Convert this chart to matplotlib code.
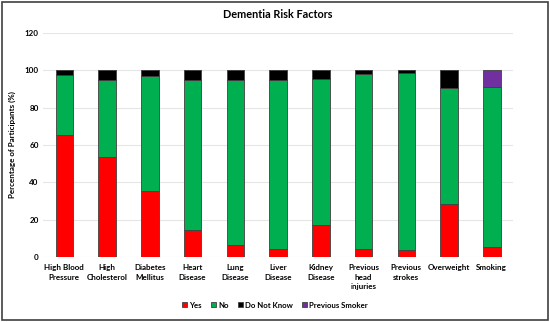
import numpy as np
import matplotlib
matplotlib.use("Agg")
import matplotlib.pyplot as plt
from matplotlib.patches import Rectangle

plt.rcParams["font.family"] = ["Lato", "DejaVu Sans"]

categories = ["High Blood\nPressure", "High\nCholesterol", "Diabetes\nMellitus", "Heart\nDisease",
              "Lung\nDisease", "Liver\nDisease", "Kidney\nDisease", "Previous\nhead\ninjuries",
              "Previous\nstrokes", "Overweight", "Smoking"]
yes = [65.5, 53.5, 35.5, 14.5, 6.5, 4.0, 17.0, 4.5, 3.5, 28.5, 5.5]
no = [32.0, 41.5, 61.5, 80.5, 88.5, 90.7, 78.5, 93.5, 95.0, 62.0, 85.5]
dont_know = [2.5, 5.0, 3.0, 5.0, 5.0, 5.3, 4.5, 2.0, 1.5, 9.5, 0.0]
prev_smoker = [0, 0, 0, 0, 0, 0, 0, 0, 0, 0, 9.0]

fig = plt.figure(figsize=(5.5, 3.22), dpi=100)
ax = fig.add_axes([0.078, 0.202, 0.855, 0.696])

x = np.arange(len(categories))
w = 0.41
ec = "#404040"
lw = 0.6
b = np.zeros(len(x))
ax.bar(x, yes, w, bottom=b, color="#ff0000", edgecolor=ec, linewidth=lw, label="Yes", zorder=3)
b += yes
ax.bar(x, no, w, bottom=b, color="#00b050", edgecolor=ec, linewidth=lw, label="No", zorder=3)
b += no
ax.bar(x, dont_know, w, bottom=b, color="#000000", edgecolor=ec, linewidth=lw, label="Do Not Know", zorder=3)
b += dont_know
ax.bar(x, prev_smoker, w, bottom=b, color="#7030a0", edgecolor=ec, linewidth=lw, label="Previous Smoker", zorder=3)

ax.set_xlim(-0.5, len(x) - 0.5)
ax.set_ylim(0, 120)
ax.set_yticks(range(0, 121, 20))
ax.set_xticks(x)
ax.set_xticklabels(categories, fontsize=5.8, fontweight="bold", va="top", linespacing=1.45)
ax.tick_params(axis="y", labelsize=5.8, length=0, pad=3)
ax.tick_params(axis="x", length=0, pad=5)
for t in ax.get_yticklabels():
    t.set_fontweight("bold")
ax.grid(axis="y", color="#e6e6e6", linewidth=0.8, zorder=0)
for s in ax.spines.values():
    s.set_visible(False)

ax.set_ylabel("Percentage of Participants (%)", fontsize=5.8, fontweight="bold", labelpad=8)
ax.yaxis.set_label_coords(-0.058, 0.5)
ax.set_title("Dementia Risk Factors", fontsize=7.8, fontweight="bold", pad=11)

fig.legend(loc="lower center", bbox_to_anchor=(0.5, 0.02), ncol=4, frameon=False,
           prop={"weight": "bold", "size": 5.6}, handlelength=0.6, handleheight=0.6,
           handletextpad=0.3, columnspacing=1.2)

fig.patches.append(Rectangle((0.003, 0.005), 0.994, 0.99, transform=fig.transFigure,
                             fill=False, edgecolor="#404040", linewidth=1.2))

fig.savefig("out.png", dpi=100)
